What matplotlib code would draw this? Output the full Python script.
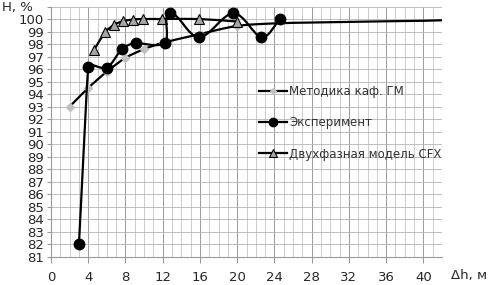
import numpy as np
import matplotlib
matplotlib.use("Agg")
import matplotlib.pyplot as plt
from matplotlib.path import Path
from matplotlib.patches import PathPatch
from matplotlib.lines import Line2D

# ---- data ----
method_x = [2, 4, 6, 8, 10, 12, 16, 20, 24, 28, 32, 36, 40, 42]
method_y = [93.0, 94.5, 95.8, 96.9, 97.6, 98.1, 98.8, 99.45, 99.65, 99.72, 99.77, 99.82, 99.86, 99.9]
method_marked = 8  # number of points drawn with markers

exp_x = [3.0, 4.0, 6.0, 7.6, 9.1, 12.2, 12.8, 15.9, 19.6, 22.6, 24.6]
exp_y = [82.0, 96.2, 96.1, 97.6, 98.1, 98.1, 100.45, 98.55, 100.45, 98.55, 100.0]

cfx_x = [4.6, 5.8, 6.8, 7.7, 8.8, 9.9, 11.9, 15.9, 20.0]
cfx_y = [97.5, 98.95, 99.55, 99.82, 99.96, 100.0, 100.0, 100.0, 99.8]

labels = ["Методика каф. ГМ", "Эксперимент", "Двухфазная модель CFX"]
xticks = list(range(0, 41, 4))
yticks = list(range(81, 101))

SX, SY = 9.3, 12.5  # approx px per unit, for smoothing only


def smooth_path(x, y, k=0.3):
    x = np.asarray(x, float); y = np.asarray(y, float)
    px, py = x * SX, y * SY
    n = len(x)
    tang = []
    for i in range(n):
        a = max(i - 1, 0); b = min(i + 1, n - 1)
        dx, dy = px[b] - px[a], py[b] - py[a]
        L = np.hypot(dx, dy) or 1.0
        tang.append((dx / L, dy / L))
    verts = [(x[0], y[0])]
    codes = [Path.MOVETO]
    for i in range(n - 1):
        seg = np.hypot(px[i + 1] - px[i], py[i + 1] - py[i])
        l1 = seg * k
        l2 = seg * k
        if i > 0:
            prev = np.hypot(px[i] - px[i - 1], py[i] - py[i - 1])
            l1 = min(seg, prev) * k
        if i + 2 < n:
            nxt = np.hypot(px[i + 2] - px[i + 1], py[i + 2] - py[i + 1])
            l2 = min(seg, nxt) * k
        c1 = ((px[i] + tang[i][0] * l1) / SX, (py[i] + tang[i][1] * l1) / SY)
        c2 = ((px[i + 1] - tang[i + 1][0] * l2) / SX, (py[i + 1] - tang[i + 1][1] * l2) / SY)
        verts += [c1, c2, (x[i + 1], y[i + 1])]
        codes += [Path.CURVE4] * 3
    return Path(verts, codes)


plt.rcParams['font.family'] = ['DejaVu Sans']
fig = plt.figure(figsize=(4.88, 2.85), dpi=100)
ax = fig.add_axes([51 / 488, 1 - 257 / 285, (442 - 51) / 488, (257 - 6.5) / 285])

ax.set_xlim(0, 42)
ax.set_ylim(81, 101)

# grid
ax.set_xticks(xticks)
ax.set_xticks(range(0, 43), minor=True)
ax.set_yticks(list(range(81, 102)))
ax.set_yticklabels([str(v) for v in yticks] + [""])
ax.set_xticklabels([str(v) for v in xticks])
ax.grid(which='minor', axis='x', color='#c4c4c4', lw=0.6)
ax.grid(which='major', axis='x', color='#9a9a9a', lw=0.7)
ax.grid(which='major', axis='y', color='#b4b4b4', lw=0.6)
ax.set_axisbelow(True)
for s in ['top', 'right']:
    ax.spines[s].set_visible(False)
for s in ['left', 'bottom']:
    ax.spines[s].set_color('#9a9a9a')
    ax.spines[s].set_linewidth(0.8)
ax.tick_params(axis='x', which='major', length=4, pad=6, colors='#9a9a9a',
               labelcolor='#262626', labelsize=9.5)
ax.tick_params(axis='x', which='minor', length=0)
ax.tick_params(axis='y', length=3, pad=2, colors='#9a9a9a', labelcolor='#262626',
               labelsize=9.5)

lw = 1.6
# methodology
ax.add_patch(PathPatch(smooth_path(method_x, method_y), fill=False, lw=lw, ec='black', zorder=3))
ax.plot(method_x[:method_marked], method_y[:method_marked], ls='none', marker='D',
        ms=4, mfc='#c0c0c0', mec='#c0c0c0', zorder=4)
# experiment
ax.add_patch(PathPatch(smooth_path(exp_x, exp_y), fill=False, lw=lw, ec='black', zorder=5))
ax.plot(exp_x, exp_y, ls='none', marker='o', ms=7.5, mfc='black', mec='black', zorder=6)
# cfx
ax.add_patch(PathPatch(smooth_path(cfx_x, cfx_y), fill=False, lw=lw, ec='black', zorder=3))
ax.plot(cfx_x, cfx_y, ls='none', marker='^', ms=7.5, mfc='#a6a6a6', mec='black',
        mew=0.8, zorder=4)

handles = [
    Line2D([], [], color='black', lw=lw, marker='D', ms=3, mfc='#c0c0c0', mec='#c0c0c0'),
    Line2D([], [], color='black', lw=lw, marker='o', ms=6, mfc='black', mec='black'),
    Line2D([], [], color='black', lw=lw, marker='^', ms=5.5, mfc='#a6a6a6', mec='black', mew=0.8),
]
leg = fig.legend(handles, labels, loc='upper left', bbox_to_anchor=(259 / 488, 1 - 85 / 285),
                 frameon=False, fontsize=8.5, handlelength=2.4, handletextpad=0.15,
                 labelspacing=1.55, borderaxespad=0, borderpad=0)
for t in leg.get_texts():
    t.set_color('#333333')

fig.text(2 / 488, 1 - 8 / 285, "H, %", fontsize=9.5, color='#262626', va='center', ha='left')
fig.text(487 / 488, 1 - 275 / 285, "Δh, м", fontsize=9.5, color='#262626', va='center', ha='right')

fig.savefig("out.png", dpi=100)
